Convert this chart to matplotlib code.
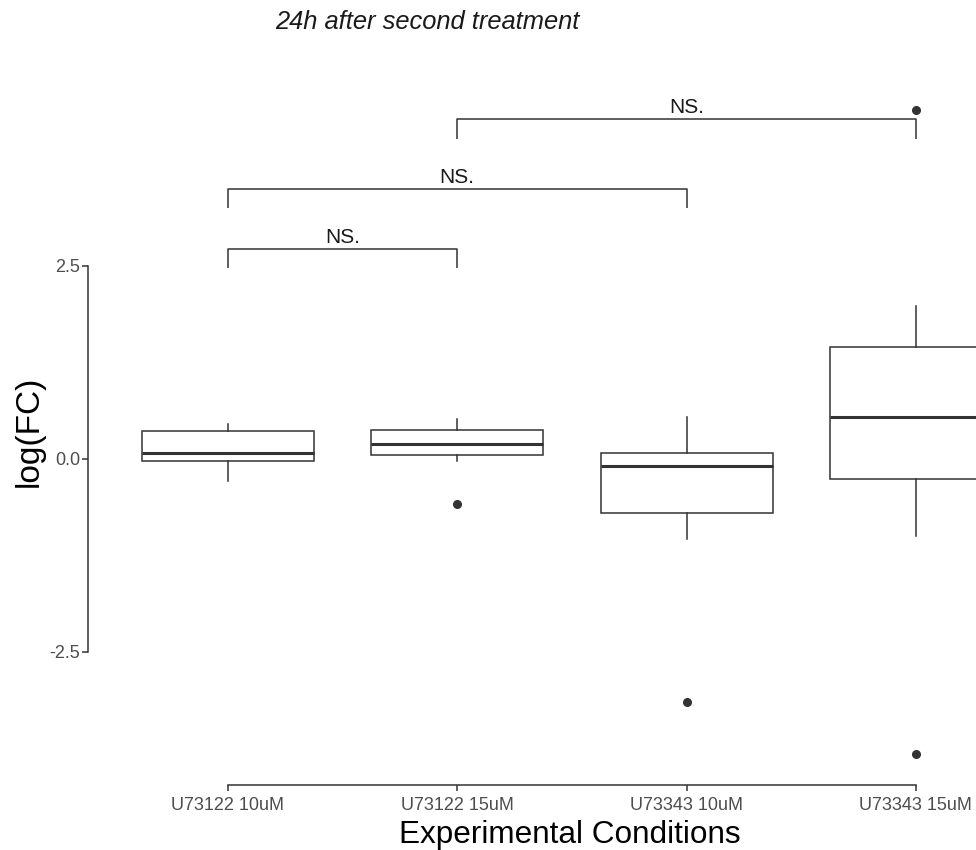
import matplotlib.pyplot as plt

plt.rcParams['font.family'] = ['Liberation Sans', 'DejaVu Sans']

conditions = ['U73122 10uM', 'U73122 15uM', 'U73343 10uM', 'U73343 15uM']
medians = [0.082, 0.199, -0.091, 0.536]
q1 = [-0.030, 0.052, -0.697, -0.264]
q3 = [0.355, 0.373, 0.074, 1.455]
whisker_lo = [-0.286, -0.030, -1.035, -1.000]
whisker_hi = [0.458, 0.519, 0.536, 1.978]
outliers = [[], [-0.58], [-3.15], [-3.82, 4.52]]

# significance brackets (group indices, height, label)
comparisons = [(1, 2), (1, 3), (2, 4)]
bracket_y = [2.72, 3.50, 4.40]
bracket_labels = ['NS.', 'NS.', 'NS.']

dark = '#333333'
grey = '#4D4D4D'

fig = plt.figure(figsize=(9.76, 8.5), dpi=100)
# panel runs past the right edge, like the cropped original
ax = fig.add_axes([88 / 976, 65 / 850, 963.2 / 976, 707 / 850])

positions = list(range(1, len(conditions) + 1))
stats = []
for m, a, b, lo, hi, f in zip(medians, q1, q3, whisker_lo, whisker_hi, outliers):
    stats.append(dict(med=m, q1=a, q3=b, whislo=lo, whishi=hi, fliers=f))

ax.bxp(stats, positions=positions, widths=0.75, patch_artist=True,
       showcaps=False,
       boxprops=dict(facecolor='white', edgecolor=dark, linewidth=1.1),
       medianprops=dict(color=dark, linewidth=2.2),
       whiskerprops=dict(color=dark, linewidth=1.1),
       flierprops=dict(marker='o', markerfacecolor=dark,
                       markeredgecolor=dark, markersize=5.5))

for (g1, g2), y, lab in zip(comparisons, bracket_y, bracket_labels):
    ax.plot([g1, g1, g2, g2], [y - 0.25, y, y, y - 0.25],
            color=dark, lw=1.1, solid_capstyle='butt')
    ax.annotate(lab, xy=((g1 + g2) / 2, y), xytext=(0, 4.3),
                textcoords='offset points', ha='center', va='baseline',
                fontsize=15, color='#1a1a1a')

ax.set_xlim(0.39, 4.59)
ax.set_ylim(-4.226, 4.935)
ax.set_xticks(positions)
ax.set_xticklabels(conditions)
ax.set_yticks([-2.5, 0.0, 2.5])
ax.set_yticklabels(['-2.5', '0.0', '2.5'])

for s in ['top', 'right']:
    ax.spines[s].set_visible(False)
ax.spines['left'].set_bounds(-2.5, 2.5)
ax.spines['bottom'].set_bounds(1, 4)
for s in ['left', 'bottom']:
    ax.spines[s].set_color(dark)
    ax.spines[s].set_linewidth(1.1)

ax.tick_params(axis='both', length=4.3, width=1.1, color=dark,
               labelcolor=grey, labelsize=13)
ax.tick_params(axis='x', pad=4)
ax.tick_params(axis='y', pad=1.5)

ax.set_xlabel('Experimental Conditions', fontsize=22.7, color='black')
ax.xaxis.label.set_va('baseline')
ax.xaxis.set_label_coords(0.5, -0.082)
ax.set_ylabel('log(FC)', fontsize=24, color='black')
ax.yaxis.label.set_va('center')
ax.yaxis.set_label_coords(-0.061, 0.5)

fig.text(275 / 976, 1 - 22 / 850, '24h after second treatment',
         ha='left', va='center', fontsize=18.4, style='italic',
         color='#1a1a1a')

fig.savefig('out.png', dpi=100)
